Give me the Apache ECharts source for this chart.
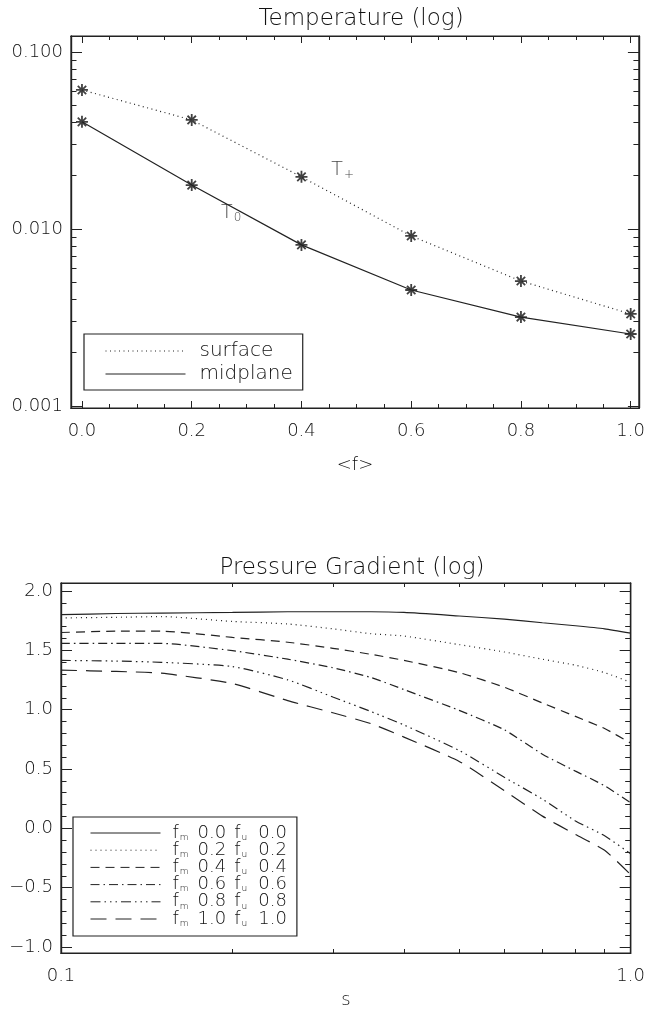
<!DOCTYPE html>
<html>
<head>
<meta charset="utf-8">
<script src="https://cdn.jsdelivr.net/npm/echarts@6/dist/echarts.min.js"></script>
<style>
  html, body { margin: 0; padding: 0; background: #fff; }
  #chart { width: 648px; height: 1010px; }
</style>
</head>
<body>
<div id="chart"></div>
<script>
// ---- top panel: temperature (log) against <f>
const fValues = [0.0, 0.2, 0.4, 0.6, 0.8, 1.0];
const tSurface = [0.061, 0.0413, 0.0197, 0.00913, 0.00508, 0.00331];
const tMidplane = [0.0403, 0.0177, 0.00813, 0.00452, 0.00318, 0.00255];
const fTicks = [0.0, 0.2, 0.4, 0.6, 0.8, 1.0];
const tTicks = [0.001, 0.01, 0.1];
// text notes next to the curves: [f, T, main letter, subscript]
const tNotes = [[0.475, 0.0215, 'T', '+'], [0.272, 0.0123, 'T', '0']];

// ---- bottom panel: pressure gradient (log) against s
const sValues = [0.1, 0.125, 0.15, 0.2, 0.25, 0.3, 0.35, 0.4, 0.5, 0.6, 0.7, 0.8, 0.9, 1.0];
const grad00 = [1.80, 1.81, 1.814, 1.819, 1.825, 1.825, 1.825, 1.819, 1.789, 1.763, 1.732, 1.707, 1.681, 1.645];
const grad02 = [1.773, 1.778, 1.784, 1.743, 1.722, 1.681, 1.64, 1.62, 1.548, 1.486, 1.425, 1.374, 1.312, 1.23];
const grad04 = [1.65, 1.661, 1.661, 1.609, 1.568, 1.517, 1.466, 1.415, 1.312, 1.189, 1.056, 0.943, 0.841, 0.718];
const grad06 = [1.558, 1.558, 1.558, 1.497, 1.425, 1.353, 1.271, 1.169, 0.994, 0.83, 0.625, 0.482, 0.359, 0.215];
const grad08 = [1.415, 1.409, 1.399, 1.363, 1.251, 1.107, 0.984, 0.871, 0.656, 0.431, 0.246, 0.062, -0.062, -0.215];
const grad10 = [1.333, 1.322, 1.307, 1.22, 1.076, 0.974, 0.882, 0.769, 0.564, 0.318, 0.103, -0.051, -0.185, -0.39];
const fmLabels = ['0.0', '0.2', '0.4', '0.6', '0.8', '1.0'];
const fuLabels = ['0.0', '0.2', '0.4', '0.6', '0.8', '1.0'];
const gTicks = [-1.0, -0.5, 0.0, 0.5, 1.0, 1.5, 2.0];
const sTicks = [0.1, 1.0];

const INK = '#222';
const TEXT = '#111';
const FONT = 'DejaVu Sans';
const WEIGHT = 200;

let myChart = echarts.init(document.getElementById('chart'), null, { renderer: 'canvas' });

// minor tick positions
let fMinor = [];
for (let i = 0; i <= 20; i++) fMinor.push(i * 0.05);
let tMinor = [];
[0.001, 0.01].forEach(d => { for (let k = 2; k <= 9; k++) tMinor.push(Math.log10(k * d)); });
let sMinor = [];
for (let k = 2; k <= 9; k++) sMinor.push(Math.log10(k * 0.1));
let gMinor = [];
for (let i = -10; i <= 20; i++) gMinor.push(i / 10);

const tLogMin = Math.log10(0.000974), tLogMax = Math.log10(0.1231);
const fMin = -0.02, fMax = 1.015;
const gMin = -1.05, gMax = 2.067;

const labelFont = { fontFamily: FONT, fontWeight: WEIGHT, color: TEXT };

// helper: an axis that only draws ticks (and maybe labels), its line lies on the frame
function tickAxis(base, values, len, labels) {
  return Object.assign({
    type: 'value',
    axisLine: { show: true, onZero: false, lineStyle: { color: INK, width: 1.2 } },
    splitLine: { show: false },
    axisTick: { show: true, inside: true, length: len, customValues: values, lineStyle: { color: INK, width: 1 } },
    axisLabel: labels ? Object.assign({ show: true, customValues: values, fontSize: 18 }, labelFont, labels) : { show: false }
  }, base);
}

const dashes = [
  'solid',
  [1, 4],
  [9, 6],
  [9, 4, 1.5, 4],
  [10, 4, 1.5, 4, 1.5, 4, 1.5, 4],
  [16, 9]
];
const gradSeries = [grad00, grad02, grad04, grad06, grad08, grad10];
const gradNames = fmLabels.map((fm, i) => 'fm ' + fm + ' fu ' + fuLabels[i]);

const asterisk = 'path://M5,0L5,10M0,5L10,5M1.5,1.5L8.5,8.5M1.5,8.5L8.5,1.5';

myChart.setOption({
  animation: false,
  backgroundColor: '#fff',
  title: [
    { text: 'Temperature (log)', left: 356, top: 3, textAlign: 'center',
      textStyle: Object.assign({ fontSize: 23 }, labelFont) },
    { text: 'Pressure Gradient (log)', left: 347, top: 552, textAlign: 'center',
      textStyle: Object.assign({ fontSize: 23 }, labelFont) }
  ],
  grid: [
    { left: 71, right: 6, top: 36, bottom: 602, show: true, borderColor: INK, borderWidth: 1.2, backgroundColor: 'transparent' },
    { left: 61, right: 16, top: 583, bottom: 56, show: true, borderColor: INK, borderWidth: 1.2, backgroundColor: 'transparent' }
  ],
  legend: [
    {
      data: ['surface', 'midplane'],
      orient: 'vertical', left: 84, top: 334,
      padding: [7, 10, 6, 21], itemGap: 3, itemWidth: 80, itemHeight: 14,
      borderColor: INK, borderWidth: 1.2,
      selectedMode: false,
      itemStyle: { color: 'transparent', borderWidth: 0, opacity: 0 },
      lineStyle: { width: 1 },
      textStyle: Object.assign({ fontSize: 20, padding: [0, 0, 0, 9] }, labelFont)
    },
    {
      data: gradNames,
      orient: 'vertical', left: 73, top: 817,
      padding: [7, 10, 8, 17], itemGap: -0.8, itemWidth: 70, itemHeight: 12,
      borderColor: INK, borderWidth: 1.2,
      selectedMode: false,
      itemStyle: { color: 'transparent', borderWidth: 0, opacity: 0 },
      lineStyle: { width: 1 },
      formatter: name => {
        const i = gradNames.indexOf(name);
        return '{f|f}{sub|m}{n1|' + fmLabels[i] + '}{f2|f}{sub|u}{n2|' + fuLabels[i] + '}';
      },
      textStyle: Object.assign({
        fontSize: 18, padding: [0, 0, 0, 7],
        rich: {
          f: Object.assign({ fontSize: 18 }, labelFont),
          f2: Object.assign({ fontSize: 18, padding: [0, 0, 0, 8] }, labelFont),
          n1: Object.assign({ fontSize: 18, padding: [0, 0, 0, 9] }, labelFont),
          n2: Object.assign({ fontSize: 18, padding: [0, 0, 0, 11] }, labelFont),
          sub: Object.assign({ fontSize: 9, verticalAlign: 'bottom', padding: [0, 0, 0, 1] }, labelFont)
        }
      }, labelFont)
    }
  ],
  xAxis: [
    // top panel: data axis (bottom side, major ticks + labels)
    tickAxis({ gridIndex: 0, position: 'bottom', min: fMin, max: fMax,
      name: '<f>', nameLocation: 'middle', nameGap: 48,
      nameTextStyle: Object.assign({ fontSize: 18 }, labelFont) },
      fTicks, 7, { margin: 14, formatter: v => v.toFixed(1) }),
    tickAxis({ gridIndex: 0, position: 'bottom', min: fMin, max: fMax }, fMinor, 4),
    tickAxis({ gridIndex: 0, position: 'top', min: fMin, max: fMax }, fTicks, 7),
    tickAxis({ gridIndex: 0, position: 'top', min: fMin, max: fMax }, fMinor, 4),
    // bottom panel: log data axis, ticks drawn by helper axes in log10 space
    { type: 'log', gridIndex: 1, min: 0.1, max: 1.0, logBase: 10, show: false },
    tickAxis({ gridIndex: 1, position: 'bottom', min: -1, max: 0,
      name: 's', nameLocation: 'middle', nameGap: 38,
      nameTextStyle: Object.assign({ fontSize: 18 }, labelFont) },
      sTicks.map(Math.log10), 7, { margin: 14, formatter: v => Math.pow(10, v).toFixed(1) }),
    tickAxis({ gridIndex: 1, position: 'bottom', min: -1, max: 0 }, sMinor, 4),
    tickAxis({ gridIndex: 1, position: 'top', min: -1, max: 0 }, sMinor, 4)
  ],
  yAxis: [
    // top panel: log data axis
    { type: 'log', gridIndex: 0, min: Math.pow(10, tLogMin), max: Math.pow(10, tLogMax), logBase: 10, show: false },
    tickAxis({ gridIndex: 0, position: 'left', min: tLogMin, max: tLogMax },
      tTicks.map(Math.log10), 11, { margin: 8, formatter: v => Math.pow(10, v).toFixed(3) }),
    tickAxis({ gridIndex: 0, position: 'left', min: tLogMin, max: tLogMax }, tMinor, 5.5),
    tickAxis({ gridIndex: 0, position: 'right', min: tLogMin, max: tLogMax }, tTicks.map(Math.log10), 11),
    tickAxis({ gridIndex: 0, position: 'right', min: tLogMin, max: tLogMax }, tMinor, 5.5),
    // bottom panel
    tickAxis({ gridIndex: 1, position: 'left', min: gMin, max: gMax },
      gTicks, 11, { margin: 8, formatter: v => v.toFixed(1).replace('-', '\u2212') }),
    tickAxis({ gridIndex: 1, position: 'left', min: gMin, max: gMax }, gMinor, 5.5),
    tickAxis({ gridIndex: 1, position: 'right', min: gMin, max: gMax }, gTicks, 11),
    tickAxis({ gridIndex: 1, position: 'right', min: gMin, max: gMax }, gMinor, 5.5)
  ],
  series: [
    {
      name: 'surface', type: 'line', xAxisIndex: 0, yAxisIndex: 0,
      data: fValues.map((f, i) => [f, tSurface[i]]),
      symbol: 'none', lineStyle: { color: INK, width: 1.2, type: [1, 3.5] }, itemStyle: { color: INK }
    },
    {
      name: 'midplane', type: 'line', xAxisIndex: 0, yAxisIndex: 0,
      data: fValues.map((f, i) => [f, tMidplane[i]]),
      symbol: 'none', lineStyle: { color: INK, width: 1.2, type: 'solid' }, itemStyle: { color: INK }
    },
    {
      name: 'points', type: 'scatter', xAxisIndex: 0, yAxisIndex: 0,
      data: fValues.map((f, i) => [f, tSurface[i]]).concat(fValues.map((f, i) => [f, tMidplane[i]])),
      symbol: asterisk, symbolSize: 12,
      itemStyle: { color: 'transparent', borderColor: '#111', borderWidth: 1.8 }, silent: true
    },
    {
      name: 'notes', type: 'scatter', xAxisIndex: 0, yAxisIndex: 0,
      data: tNotes.map(n => ({ value: [n[0], n[1]], main: n[2], sub: n[3] })),
      symbolSize: 0, silent: true,
      label: {
        show: true, position: 'inside',
        formatter: p => '{m|' + p.data.main + '}{s|' + p.data.sub + '}',
        rich: {
          m: Object.assign({ fontSize: 19 }, labelFont),
          s: Object.assign({ fontSize: 12, padding: [10, 0, 0, 1] }, labelFont)
        }
      }
    }
  ].concat(gradSeries.map((vals, i) => ({
    name: gradNames[i], type: 'line', xAxisIndex: 4, yAxisIndex: 5,
    data: sValues.map((s, j) => [s, vals[j]]),
    symbol: 'none', smooth: 0.2,
    lineStyle: { color: INK, width: 1.2, type: dashes[i] }, itemStyle: { color: INK }
  })))
});
</script>
</body>
</html>
